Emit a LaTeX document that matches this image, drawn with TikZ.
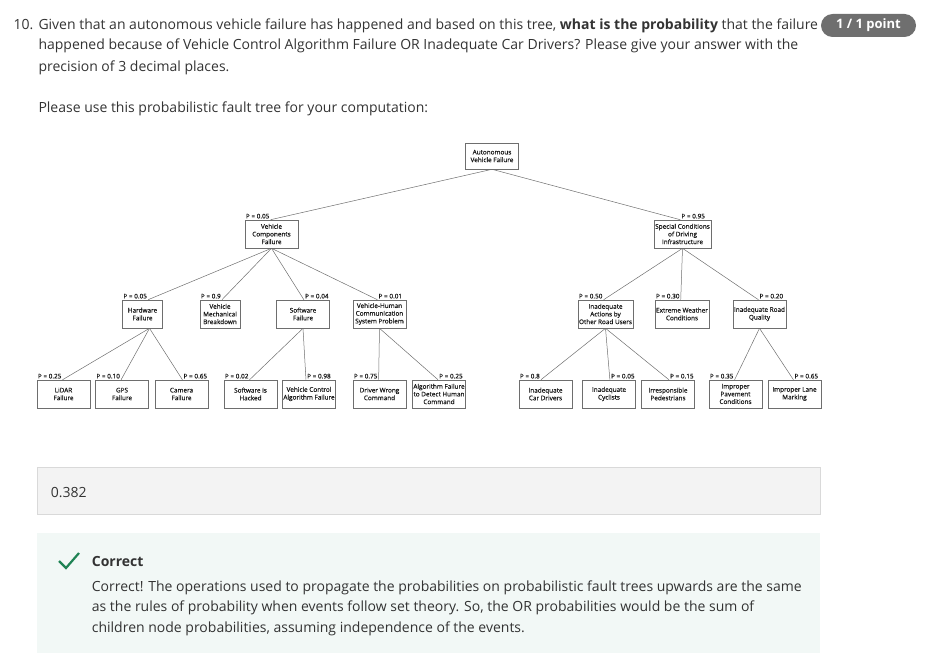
\documentclass[tikz,border=0pt]{standalone}
\usepackage{fontspec}
\setmainfont{Open Sans}
\newfontfamily\treefam[FakeBold=0.6]{Open Sans}
\usepackage{xcolor}
\usepackage{tikz}

\definecolor{txt}{HTML}{333333}
\definecolor{boxgray}{HTML}{6E6E6E}
\definecolor{badgegray}{HTML}{6F6F6F}
\definecolor{ansfill}{HTML}{F3F3F3}
\definecolor{ansline}{HTML}{D9D9D9}
\definecolor{okfill}{HTML}{F2F8F6}
\definecolor{okgreen}{HTML}{1F8354}

\newcommand{\treefont}{\treefam\fontsize{6.4}{7.7}\selectfont}
\newcommand{\bodyfont}{\fontsize{14}{20}\selectfont}

\begin{document}
\begin{tikzpicture}[
    x=1pt, y=-1pt,
    evt/.style={rectangle, draw=boxgray, line width=0.6pt, minimum width=53pt, minimum height=28pt,
        inner xsep=1pt, inner ysep=1pt, align=center, font=\treefont, text=black!90},
    prob/.style={inner xsep=1pt, inner ysep=1pt, font=\treefont, text=black!90},
    link/.style={draw=boxgray, line width=0.5pt},
    body/.style={anchor=base west, inner sep=0pt, text=txt, font=\bodyfont},
    badge/.style={fill=badgegray, rounded corners=11.5pt, minimum width=95pt, minimum height=23pt,
        inner sep=0pt, text=white, font=\bfseries\fontsize{13}{15}\selectfont}
]
    \useasboundingbox (0,0) rectangle (929,669);

    % Question
    \node[body] (num) at (13.3,29.3) {10.};
    \node[body] (q1) at (38.3,29.3) {Given that an autonomous vehicle failure has happened and based on this tree, \textbf{what is the probability} that the failure};
    \node[body] (q2) at (38.3,50) {happened because of Vehicle Control Algorithm Failure OR Inadequate Car Drivers? Please give your answer with the};
    \node[body] (q3) at (38.3,71) {precision of 3 decimal places.};
    \node[body] (q4) at (38.3,112.7) {Please use this probabilistic fault tree for your computation:};
    \node[badge] (pts) at (868.5,25.5) {1 / 1 point};

    % Top event
    \node[evt, minimum height=26pt] (root) at (492,156) {Autonomous\\Vehicle Failure};

    % Level 1
    \node[evt] (vc) at (271.5,234) {Vehicle\\Components\\Failure};
    \node[evt] (sc) at (682.5,234) {Special Conditions\\of Driving\\Infrastructure};
    \node[prob, anchor=south west] (pvc) at (vc.north west) {P = 0.05};
    \node[prob, anchor=south east] (psc) at ([xshift=-5pt]sc.north east) {P = 0.95};

    % Level 2
    \node[evt, minimum width=40pt] (hw) at (142.5,314) {Hardware\\Failure};
    \node[evt, minimum width=40pt] (vm) at (220,314) {Vehicle\\Mechanical\\Breakdown};
    \node[evt] (sw) at (303,314) {Software\\Failure};
    \node[evt] (vh) at (379.5,314) {Vehicle-Human\\Communication\\System Problem};
    \node[evt] (ia) at (605.5,314) {Inadequate\\Actions by\\Other Road Users};
    \node[evt] (ew) at (682,314) {Extreme Weather\\Conditions};
    \node[evt] (rq) at (759.5,314) {Inadequate Road\\Quality};

    \node[prob, anchor=south west] (phw) at (hw.north west) {P = 0.05};
    \node[prob, anchor=south west] (pvm) at (vm.north west) {P = 0.9};
    \node[prob, anchor=south east] (psw) at (sw.north east) {P = 0.04};
    \node[prob, anchor=south east] (pvh) at ([xshift=-3pt]vh.north east) {P = 0.01};
    \node[prob, anchor=south west] (pia) at (ia.north west) {P = 0.50};
    \node[prob, anchor=south west] (pew) at (ew.north west) {P = 0.30};
    \node[prob, anchor=south east] (prq) at ([xshift=-2pt]rq.north east) {P = 0.20};

    % Basic events
    \node[evt] (lidar) at (63.5,394) {LiDAR\\Failure};
    \node[evt] (gps) at (122,394) {GPS\\Failure};
    \node[evt] (cam) at (181.5,394) {Camera\\Failure};
    \node[evt] (hack) at (250.5,394) {Software is\\Hacked};
    \node[evt] (vca) at (309,394) {Vehicle Control\\Algorithm Failure};
    \node[evt] (dwc) at (379.5,394) {Driver Wrong\\Command};
    \node[evt] (afd) at (439,394) {Algorithm Failure\\to Detect Human\\Command};
    \node[evt] (icd) at (545.5,394) {Inadequate\\Car Drivers};
    \node[evt] (icy) at (609,394) {Inadequate\\Cyclists};
    \node[evt] (irp) at (668,394) {Irresponsible\\Pedestrians};
    \node[evt] (ipc) at (735.5,394) {Improper\\Pavement\\Conditions};
    \node[evt] (ilm) at (794.5,394) {Improper Lane\\Marking};

    \node[prob, anchor=south west] (plidar) at (lidar.north west) {P = 0.25};
    \node[prob, anchor=south west] (pgps) at (gps.north west) {P = 0.10};
    \node[prob, anchor=south east] (pcam) at (cam.north east) {P = 0.65};
    \node[prob, anchor=south west] (phack) at (hack.north west) {P = 0.02};
    \node[prob, anchor=south east] (pvca) at ([xshift=-4pt]vca.north east) {P = 0.98};
    \node[prob, anchor=south west] (pdwc) at (dwc.north west) {P = 0.75};
    \node[prob, anchor=south east] (pafd) at ([xshift=-2pt]afd.north east) {P = 0.25};
    \node[prob, anchor=south west] (picd) at (icd.north west) {P = 0.8};
    \node[prob, anchor=south east] (picy) at (icy.north east) {P = 0.05};
    \node[prob, anchor=south east] (pirp) at (irp.north east) {P = 0.15};
    \node[prob, anchor=south west] (pipc) at (ipc.north west) {P = 0.35};
    \node[prob, anchor=south east] (pilm) at ([xshift=-2pt]ilm.north east) {P = 0.65};

    % Connections (to the corner of each probability label)
    \foreach \p/\c/\a in {root/pvc/south east, root/psc/south west,
        vc/phw/south east, vc/pvm/south east, vc/psw/south west, vc/pvh/south west,
        sc/pia/south east, sc/pew/south east, sc/prq/south west,
        sw/phack/south east, sw/pvca/south west,
        vh/pdwc/south east, vh/pafd/south west,
        ia/picd/south east, ia/picy/south west, ia/pirp/south west,
        rq/pipc/south east, rq/pilm/south west} {
        \draw[link] (\p.south) -- (\c.\a);
    }
    \foreach \c/\a in {plidar/south east, pgps/south east, pcam/south west} {
        \draw[link] ([xshift=7pt]hw.south) -- (\c.\a);
    }

    % Answer
    \node[draw=ansline, fill=ansfill, line width=0.8pt, minimum width=783pt, minimum height=47pt,
        anchor=north west] (ansbox) at (37,467) {};
    \node[body] (ans) at (50.7,497.3) {0.382};

    % Feedback
    \node[fill=okfill, minimum width=783pt, minimum height=120pt, anchor=north west] (okbox) at (37,533) {};
    \draw[okgreen, line width=2.2pt] (59,561) -- (66,568) -- (79,553);
    \node[body, font=\bfseries\bodyfont] (okhead) at (91.7,566) {Correct};
    \node[body] (ok1) at (91.7,591) {Correct! The operations used to propagate the probabilities on probabilistic fault trees upwards are the same};
    \node[body] (ok2) at (91.7,611.7) {as the rules of probability when events follow set theory. So, the OR probabilities would be the sum of};
    \node[body] (ok3) at (91.7,632.7) {children node probabilities, assuming independence of the events.};
\end{tikzpicture}
\end{document}
